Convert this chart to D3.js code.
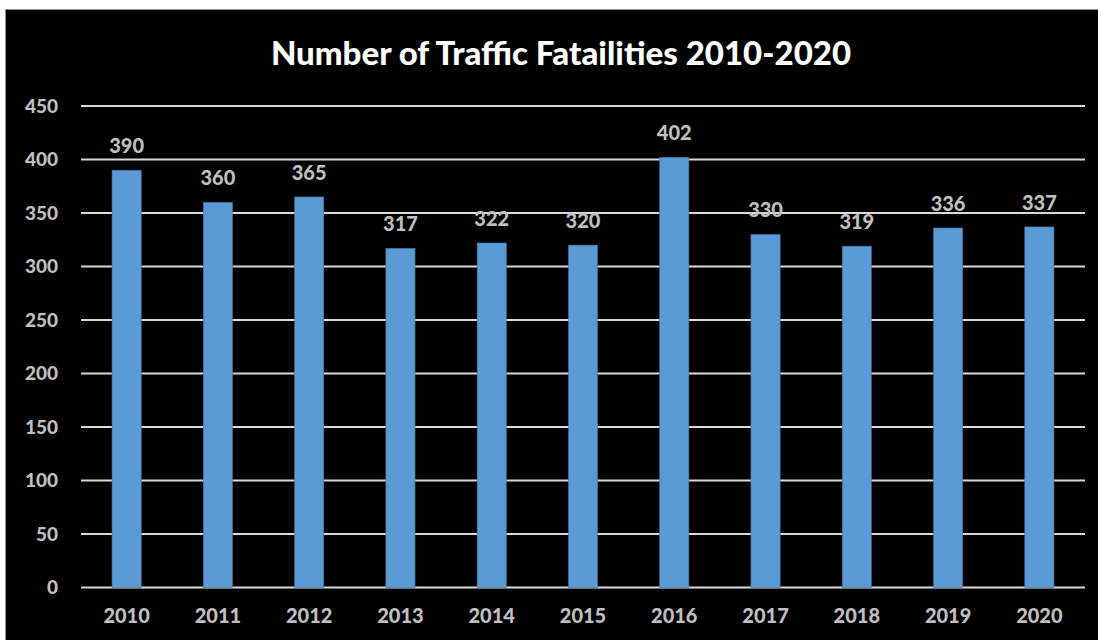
<!DOCTYPE html>
<html>
<head>
<meta charset="utf-8">
<script src="https://cdn.jsdelivr.net/npm/d3@7"></script>
<style>
  body { margin: 0; background: #fff; }
  text { font-family: Lato, "Open Sans", sans-serif; font-weight: 900; }
</style>
</head>
<body>
<svg class="chart" width="1098" height="640"></svg>
<script>
const years = ['2010','2011','2012','2013','2014','2015','2016','2017','2018','2019','2020']
const fatalities = [390, 360, 365, 317, 322, 320, 402, 330, 319, 336, 337]
const yTicks = [0, 50, 100, 150, 200, 250, 300, 350, 400, 450]

const data = years.map((y, i) => ({year: y, value: fatalities[i]}))

const svg = d3.select('.chart')
const margin = {left: 81, right: 13, top: 106, bottom: 52}
const width = 1098, height = 640

// black chart area with thin grey border
svg.append('rect')
  .attr('x', 5.5).attr('y', 9.5)
  .attr('width', width - 5).attr('height', height - 9)
  .attr('fill', '#000')
  .attr('stroke', '#8c8c8c')
  .attr('stroke-width', 1)

const x = d3.scaleBand()
  .domain(years)
  .range([margin.left, width - margin.right])
  .paddingInner(0.68)
  .paddingOuter(0.34)

const y = d3.scaleLinear()
  .domain([0, 450])
  .range([height - margin.bottom - 0.5, margin.top])

// gridlines
svg.append('g')
  .selectAll('line')
  .data(yTicks)
  .join('line')
  .attr('x1', margin.left)
  .attr('x2', width - margin.right)
  .attr('y1', d => y(d))
  .attr('y2', d => y(d))
  .attr('stroke', '#d9d9d9')
  .attr('stroke-width', 2)

// y labels
svg.append('g')
  .selectAll('text')
  .data(yTicks)
  .join('text')
  .attr('x', 58)
  .attr('y', d => y(d))
  .attr('dy', '0.36em')
  .attr('text-anchor', 'end')
  .attr('fill', '#bfbfbf')
  .attr('font-size', 19)
  .text(d => d)

// bars
svg.append('g')
  .selectAll('rect')
  .data(data)
  .join('rect')
  .attr('x', d => x(d.year))
  .attr('y', d => y(d.value))
  .attr('width', x.bandwidth())
  .attr('height', d => y(0) - y(d.value))
  .attr('fill', '#5b9bd5')
  .attr('stroke', '#41719c')
  .attr('stroke-width', 0.6)

// value labels
svg.append('g')
  .selectAll('text')
  .data(data)
  .join('text')
  .attr('x', d => x(d.year) + x.bandwidth() / 2)
  .attr('y', d => y(d.value) - 17)
  .attr('text-anchor', 'middle')
  .attr('fill', '#bfbfbf')
  .attr('font-size', 20)
  .text(d => d.value)

// x labels
svg.append('g')
  .selectAll('text')
  .data(years)
  .join('text')
  .attr('x', d => x(d) + x.bandwidth() / 2)
  .attr('y', 623)
  .attr('text-anchor', 'middle')
  .attr('fill', '#bfbfbf')
  .attr('font-size', 20)
  .text(d => d)

svg.append('text')
  .attr('x', 561)
  .attr('y', 65)
  .attr('text-anchor', 'middle')
  .attr('fill', '#fff')
  .attr('font-size', 33)
  .text('Number of Traffic Fatailities 2010-2020')
</script>
</body>
</html>
